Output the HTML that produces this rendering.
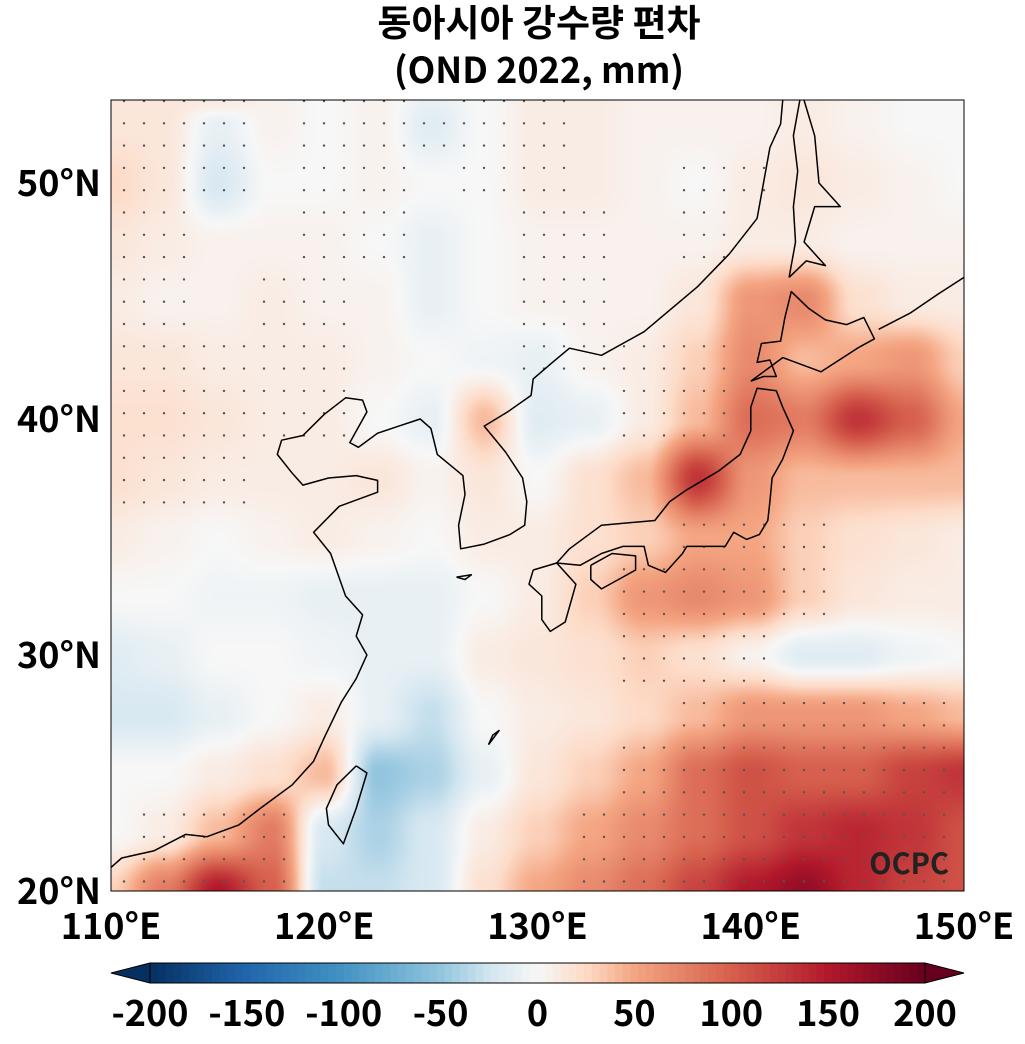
<!DOCTYPE html>
<html><head><meta charset="utf-8">
<style>
body{margin:0;background:#fff;width:1025px;height:1044px;overflow:hidden;position:relative;font-family:"Noto Sans CJK KR","Liberation Sans",sans-serif;}
.t{position:absolute;font-weight:bold;color:#000;white-space:nowrap;line-height:1;}
#map{position:absolute;left:111px;top:100px;}
</style></head><body>
<div class="t" style="left:0;width:1078px;text-align:center;top:2px;font-size:37px;">동아시아 강수량 편차</div>
<div class="t" style="left:0;width:1078px;text-align:center;top:50px;font-size:36px;">(OND 2022, mm)</div>
<canvas id="map" width="853" height="791"></canvas>
<svg id="ov" width="1025" height="1044" style="position:absolute;left:0;top:0"></svg>
<script>
const lons=[110,112.5,115,117.5,120,122.5,125,127.5,130,132.5,135,137.5,140,142.5,145,147.5,150];
const lats=[53.5,52.5,50,47.5,45,42.5,40,37.5,35,32.5,30,27.5,25,22.5,20];
const vals=[
[15,15,10,5,0,5,-10,0,10,10,5,5,5,10,5,0,0],
[15,15,-10,5,0,5,-15,0,10,10,5,5,5,10,5,0,0],
[25,15,-20,0,0,5,0,0,10,10,5,0,10,15,10,5,0],
[15,10,5,5,5,0,-10,0,5,5,5,5,10,10,5,5,5],
[10,5,5,10,5,5,-10,0,5,5,5,15,60,70,20,10,10],
[15,15,10,10,10,5,0,-5,-10,5,10,30,70,40,50,60,30],
[20,20,15,10,10,0,-10,40,-15,-10,10,40,90,80,130,100,50],
[20,15,10,10,10,15,5,15,0,20,40,130,60,40,40,40,40],
[10,5,0,5,10,5,0,10,10,20,30,50,50,30,20,15,10],
[0,0,-5,-5,-10,-10,-10,0,10,30,60,70,60,30,15,10,10],
[-15,-10,0,0,-5,-10,-10,10,15,20,30,20,5,-15,-15,-5,0],
[-20,-20,-10,0,10,-10,-30,0,10,15,25,40,60,60,60,50,40],
[0,0,10,20,40,-50,-40,-10,15,30,50,90,110,100,100,120,130],
[0,10,40,80,-20,-40,-20,10,30,50,70,90,110,130,140,130,110],
[30,80,150,100,-30,-30,-20,20,50,70,90,120,150,170,140,120,110]];
const dotMask=[
[1,1,1,0,1,1,0,1,1,0,0,0,0,0,0,0,0],
[1,1,1,0,1,1,1,1,1,0,0,0,0,0,0,0,0],
[1,1,1,0,1,1,0,1,1,0,0,1,1,0,0,0,0],
[1,1,0,0,1,1,0,0,1,1,0,1,0,0,0,0,0],
[1,1,0,1,1,0,0,0,1,1,0,0,0,0,0,0,0],
[1,1,1,1,1,0,0,0,1,1,1,1,0,0,0,0,0],
[1,1,1,1,1,0,0,0,0,0,1,1,0,0,0,0,0],
[1,1,1,0,0,0,0,0,0,0,0,0,0,0,0,0,0],
[0,0,0,0,0,0,0,0,0,0,0,1,1,1,0,0,0],
[0,0,0,0,0,0,0,0,0,0,1,1,1,1,0,0,0],
[0,0,0,0,0,0,0,0,0,0,1,1,1,0,0,0,0],
[0,0,0,0,0,0,0,0,0,0,0,1,1,1,1,1,1],
[0,0,0,0,0,0,0,0,0,0,1,1,1,1,1,1,1],
[0,1,1,1,0,0,0,0,0,1,1,1,1,1,1,1,1],
[1,1,1,1,0,0,0,0,0,1,1,1,1,1,1,1,1]];
const ticksLat=[20,30,40,50], ticksLon=[110,120,130,140,150], cbTicks=[-200,-150,-100,-50,0,50,100,150,200];
const stops=[[-200,[5,48,97]],[-150,[33,102,172]],[-100,[67,147,195]],[-50,[146,197,222]],[-25,[209,229,240]],[0,[247,247,247]],[25,[253,219,199]],[50,[244,165,130]],[100,[214,96,77]],[150,[178,24,43]],[200,[103,0,31]]];
function cmap(v){v=Math.max(-200,Math.min(200,v));for(let i=0;i<stops.length-1;i++){const a=stops[i],b=stops[i+1];if(v<=b[0]){const t=(v-a[0])/(b[0]-a[0]);return a[1].map((c,k)=>Math.round(c+(b[1][k]-c)*t));}}return stops[stops.length-1][1];}
const X0=111,X1=964,Y0=100,Y1=891;
const px=lon=>X0+(lon-110)*(X1-X0)/40;
const py=lat=>891-(lat-20)*23.6;
const invLon=x=>110+(x-X0)*40/(X1-X0), invLat=y=>20+(891-y)/23.6;
function idx(arr,v,desc){for(let i=0;i<arr.length-1;i++){const a=arr[i],b=arr[i+1];if(desc?(v<=a&&v>=b):(v>=a&&v<=b))return [i,(v-a)/(b-a)];}return desc?(v>arr[0]?[0,0]:[arr.length-2,1]):(v<arr[0]?[0,0]:[arr.length-2,1]);}
function val(lon,lat){const [i,tx]=idx(lons,lon,false),[j,ty]=idx(lats,lat,true);
 const s=t=>t*t*(3-2*t);const a=s(tx),b=s(ty);
 const v00=vals[j][i],v01=vals[j][i+1],v10=vals[j+1][i],v11=vals[j+1][i+1];
 return (v00*(1-a)+v01*a)*(1-b)+(v10*(1-a)+v11*a)*b;}
const cv=document.getElementById('map'),ctx=cv.getContext('2d'),im=ctx.createImageData(853,791);
for(let y=0;y<791;y++)for(let x=0;x<853;x++){const c=cmap(val(invLon(x+X0),invLat(y+Y0)));const o=(y*853+x)*4;im.data[o]=c[0];im.data[o+1]=c[1];im.data[o+2]=c[2];im.data[o+3]=255;}
ctx.putImageData(im,0,0);
const ov=document.getElementById('ov'),NS='http://www.w3.org/2000/svg';
const FF='Noto Sans CJK KR, Liberation Sans, sans-serif';
function mk(t,a,p){const e=document.createElementNS(NS,t);for(const k in a)e.setAttribute(k,a[k]);(p||ov).appendChild(e);return e;}
const dg=mk('g',{fill:'#555'});


for(let y=101;y<891;y+=22.3)for(let x=124;x<964;x+=20){const lo=invLon(x),la=invLat(y);const [i,tx]=idx(lons,lo,false),[j,ty]=idx(lats,la,true);const ii=tx<0.5?i:i+1,jj=ty<0.5?j:j+1;if(dotMask[jj][ii])mk('circle',{cx:x,cy:y.toFixed(1),r:1.2},dg);}
const coasts=[
[[110,21],[110.5,21.4],[112,21.7],[113.5,22.4],[114.5,22.3],[116,22.8],[117,23.5],[118.5,24.5],[119.5,25.5],[120,26.5],[120.8,28],[121.5,29],[122,30],[121.5,30.8],[121.8,31.7],[121,32.5],[120.3,34.3],[119.5,35.2],[120.7,36.3],[122.5,36.9],[122.5,37.4],[121.5,37.6],[120.2,37.5],[119,37.2],[118.5,37.7],[117.8,38.5],[118,39.1],[119,39.3],[120,40.2],[121,40.9],[121.8,40.8],[122,40.3],[121.2,39],[121.6,38.8],[122.5,39.4],[123.5,39.7],[124.5,40],[125,39.6],[125.3,38.5],[126.5,37.6],[126.6,36.8],[126.3,35.5],[126.4,34.5],[127.5,34.7],[128.7,35.1],[129.4,35.5],[129.5,36.5],[129.3,37.5],[128.5,38.6],[127.5,39.7],[128.6,40.3],[129.7,41],[129.8,41.7],[130.7,42.4],[131.5,43],[133,42.7],[135,43.7],[137.5,45.6],[139,47],[140.3,48.5],[140.6,50],[140.9,51.5],[141.4,52.5],[141.5,53.5]],
[[130.9,33.9],[131.5,34.5],[133,35.5],[135.5,35.7],[136.2,36.5],[137,37],[138.5,37.8],[139.5,38.5],[140,39.5],[140,40.5],[140.3,41.3],[141.2,41.2],[141.5,40.5],[142,39.5],[141.5,38.3],[141,37.5],[140.9,36.5],[140.8,35.7],[140.4,35.1],[139.8,34.9],[139.2,35.2],[138.8,34.6],[138.2,34.6],[137,34.6],[136.8,34.3],[136,33.5],[135.2,33.8],[135,34.6],[134,34.6],[133,34.3],[132,33.8],[130.9,33.9]],
[[129.8,33.6],[130.9,33.9],[131.8,33],[131.3,31.4],[130.6,31],[130.2,31.5],[130.2,32.5],[129.6,33],[129.8,33.6]],
[[132.5,33.8],[133.5,34.3],[134.6,34.2],[134.6,33.6],[134,33.3],[133,32.8],[132.5,33.2],[132.5,33.8]],
[[140,41.6],[140.6,41.8],[141.2,41.8],[140.9,42.5],[140.3,42.4],[140.5,43.2],[141.4,43.3],[141.6,44.3],[141.9,45.4],[142.7,44.7],[143.5,44.2],[144.5,44],[145.3,44.3],[145.8,43.4],[145,43],[143.3,42],[141.5,42.6],[140.9,42.2],[140,41.6]],
[[141.8,46],[142.1,47.5],[142,49],[142.2,50.5],[142,52],[142.3,53.5]],
[[142.5,53.5],[143,52],[143.2,50],[144.2,49],[143,49],[142.5,47.5],[143.5,46.5],[142.6,46.7],[141.8,46]],
[[121.5,25.3],[122,25],[121.5,23.5],[120.9,22],[120.2,22.8],[120.1,23.5],[120.6,24.5],[121.5,25.3]],
[[126.2,33.3],[126.9,33.4],[126.6,33.2],[126.2,33.3]],
[[146,43.8],[147.5,44.5],[148.8,45.3],[150,46]],
[[127.7,26.2],[128.2,26.8],[127.9,26.6],[127.7,26.2]]];
const cg=mk('g',{fill:'none',stroke:'#000','stroke-width':1.5,'stroke-linejoin':'round'});


const cp=mk('clipPath',{id:'cp'});mk('rect',{x:X0,y:Y0,width:X1-X0,height:Y1-Y0},cp);
cg.setAttribute('clip-path','url(#cp)');
coasts.forEach(c=>mk('polyline',{points:c.map(p=>px(p[0]).toFixed(1)+','+py(p[1]).toFixed(1)).join(' ')},cg));
const fr=mk('rect',{x:X0,y:Y0,width:X1-X0,height:Y1-Y0,fill:'none',stroke:'#000','stroke-width':1});


const oc=mk('text',{x:949,y:874,'text-anchor':'end','font-size':29,'font-weight':'bold',fill:'#222','font-family':FF});oc.textContent='OCPC';


ticksLat.forEach(l=>{const t=mk('text',{x:101,y:py(l)+13,'text-anchor':'end','font-size':36,'font-weight':'bold','font-family':FF});t.textContent=l+'°N';
 
 });
ticksLon.forEach(l=>{const t=mk('text',{x:px(l),y:939,'text-anchor':'middle','font-size':36,'font-weight':'bold','font-family':FF});t.textContent=l+'°E';
 
 });
const CB0=150,CB1=925,CBY=963,CBH=20;const cbx=v=>CB0+(v+200)*(CB1-CB0)/400;
const cbg=mk('g',{});


for(let v=-200;v<200;v+=4){const c=cmap(v+2);mk('rect',{x:cbx(v),y:CBY,width:cbx(v+4)-cbx(v)+0.6,height:CBH,fill:`rgb(${c})`},cbg);}
mk('polygon',{points:`${CB0},${CBY} 111,${CBY+CBH/2} ${CB0},${CBY+CBH}`,fill:`rgb(${cmap(-200)})`,stroke:'#000','stroke-width':1},cbg);
mk('polygon',{points:`${CB1},${CBY} 964,${CBY+CBH/2} ${CB1},${CBY+CBH}`,fill:`rgb(${cmap(200)})`,stroke:'#000','stroke-width':1},cbg);
mk('rect',{x:CB0,y:CBY,width:CB1-CB0,height:CBH,fill:'none',stroke:'#000','stroke-width':1},cbg);
cbTicks.forEach(v=>{const t=mk('text',{x:cbx(v),y:1026,'text-anchor':'middle','font-size':36,'font-weight':'bold','font-family':FF},cbg);t.textContent=v;
 
 });
</script>
</body></html>
